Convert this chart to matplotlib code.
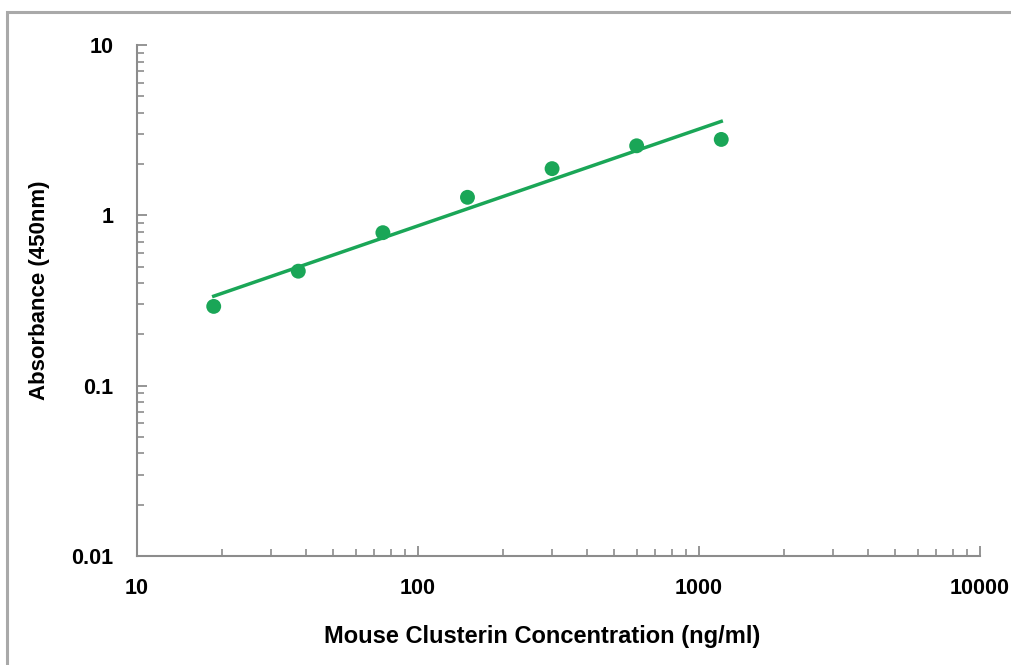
import numpy as np
import matplotlib
matplotlib.use("Agg")
import matplotlib.pyplot as plt
from matplotlib.ticker import LogLocator, FixedLocator, NullFormatter
from matplotlib.patches import Rectangle

# Data
concentration = [18.75, 37.5, 75, 150, 300, 600, 1200]
absorbance = [0.292, 0.470, 0.791, 1.276, 1.88, 2.56, 2.79]
x_ticks = [10, 100, 1000, 10000]
x_tick_labels = ["10", "100", "1000", "10000"]
y_ticks = [0.01, 0.1, 1, 10]
y_tick_labels = ["0.01", "0.1", "1", "10"]
x_label = "Mouse Clusterin Concentration (ng/ml)"
y_label = "Absorbance (450nm)"

plt.rcParams['font.family'] = ['Liberation Sans', 'DejaVu Sans']
plt.rcParams['font.weight'] = 'bold'

W, H = 1012, 665
fig = plt.figure(figsize=(W / 100, H / 100), dpi=100)
fig.patch.set_facecolor('white')

# outer border (top and left visible)
fig.add_artist(Rectangle((7 / W, -0.1), 1.2, 1 - 12 / H + 0.1, transform=fig.transFigure,
                         fill=False, edgecolor='#a9a9a9', linewidth=2.2))

ax = fig.add_axes([137 / W, 1 - 556 / H, (980 - 137) / W, (556 - 45) / H])
green = '#1aa657'

ax.scatter(concentration, absorbance, s=115, color=green, zorder=3, edgecolors='none')

# power trend line (least squares in log-log)
lx = np.log10(concentration)
ly = np.log10(absorbance)
b, a = np.polyfit(lx, ly, 1)
xs = np.array([concentration[0], concentration[-1]])
ax.plot(xs, 10 ** (a + b * np.log10(xs)), color=green, linewidth=2.5, zorder=2)

ax.set_xscale('log')
ax.set_yscale('log')
ax.set_xlim(10, 10000)
ax.set_ylim(0.01, 10)

for s in ['top', 'right']:
    ax.spines[s].set_visible(False)
for s in ['left', 'bottom']:
    ax.spines[s].set_color('#8c8c8c')
    ax.spines[s].set_linewidth(1.5)

ax.xaxis.set_major_locator(FixedLocator(x_ticks))
ax.set_xticklabels(x_tick_labels)
ax.yaxis.set_major_locator(FixedLocator(y_ticks))
ax.set_yticklabels(y_tick_labels)
ax.xaxis.set_minor_locator(LogLocator(base=10, subs=np.arange(2, 10)))
ax.yaxis.set_minor_locator(LogLocator(base=10, subs=np.arange(2, 10)))
ax.xaxis.set_minor_formatter(NullFormatter())
ax.yaxis.set_minor_formatter(NullFormatter())

ax.tick_params(axis='both', which='major', direction='in', length=7, width=1.3,
               color='#8c8c8c', labelsize=15.5, labelcolor='black')
ax.tick_params(axis='both', which='minor', direction='in', length=5, width=1.2,
               color='#8c8c8c')
ax.tick_params(axis='x', which='major', pad=16)
ax.tick_params(axis='y', which='major', pad=17)
for lab in ax.get_xticklabels() + ax.get_yticklabels():
    lab.set_fontweight('bold')

fig.text(542 / W, 1 - 637 / H, x_label, ha='center', va='center',
         fontsize=17, fontweight='bold')
fig.text(40 / W, 1 - 290 / H, y_label, ha='center', va='center', rotation=90,
         fontsize=16, fontweight='bold')

fig.savefig('out.png', dpi=100, facecolor='white')
